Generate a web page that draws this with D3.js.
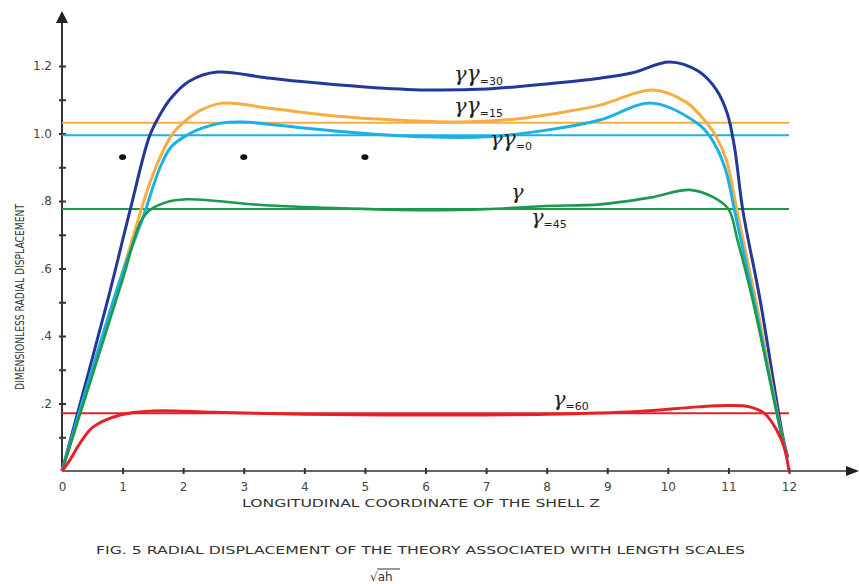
<!DOCTYPE html>
<html>
<head>
  <meta charset="utf-8">
  <title>Fig. 5 radial displacement</title>
  <script src="https://d3js.org/d3.v7.min.js"></script>
  <style>
    body { margin: 0; background: #fff; }
    .tick text { font-family: "DejaVu Sans", Verdana, sans-serif; font-size: 12px; fill: #444; }
    .tick line { stroke: #333; stroke-width: 2; }
    .domain { display: none; }
    .lbl { font-family: "DejaVu Sans", Verdana, sans-serif; fill: #333; }
  </style>
</head>
<body>
<script>
  var width = 859,
      height = 584;

  // axis ticks
  var xTicks = [0, 1, 2, 3, 4, 5, 6, 7, 8, 9, 10, 11, 12];
  var yTicks = [0.1, 0.2, 0.3, 0.4, 0.5, 0.6, 0.7, 0.8, 0.9, 1.0, 1.1, 1.2];
  var yTickLabels = {0.2: ".2", 0.4: ".4", 0.6: ".6", 0.8: ".8", 1.0: "1.0", 1.2: "1.2"};

  // curves (z, value)
  var zG30 = [0, 0.76, 1.12, 1.44, 1.6, 1.8, 2.1, 2.56, 3.3, 4, 5, 6, 7, 8, 8.88, 9.42, 10.03, 10.5, 10.8, 10.98, 11.1, 11.24, 11.52, 11.9, 11.98];
  var vG30 = [0, 0.51, 0.77, 0.99, 1.05, 1.105, 1.155, 1.182, 1.167, 1.153, 1.138, 1.129, 1.132, 1.147, 1.164, 1.18, 1.212, 1.185, 1.13, 1.06, 0.96, 0.77, 0.51, 0.1, 0.04];

  var zG15 = [0, 0.96, 1.31, 1.45, 1.62, 1.81, 2.0, 2.3, 2.66, 3.5, 4.5, 5.5, 6.5, 7.5, 8.3, 8.88, 9.75, 10.3, 10.64, 10.8, 10.97, 11.14, 11.45, 11.9, 11.98];
  var vG15 = [0, 0.567, 0.776, 0.853, 0.93, 0.995, 1.032, 1.07, 1.09, 1.073, 1.052, 1.04, 1.034, 1.043, 1.064, 1.084, 1.129, 1.093, 1.032, 0.99, 0.92, 0.773, 0.507, 0.09, 0.04];

  var zG0 = [0, 0.96, 1.34, 1.62, 1.8, 2.06, 2.3, 2.6, 3, 4, 5, 6, 7, 8, 8.88, 9.73, 10.48, 10.7, 10.94, 11.1, 11.42, 11.9, 11.98];
  var vG0 = [0, 0.567, 0.753, 0.9, 0.96, 0.995, 1.015, 1.03, 1.034, 1.016, 1.0, 0.99, 0.99, 1.01, 1.04, 1.09, 1.031, 0.99, 0.9, 0.773, 0.507, 0.09, 0.04];

  var zG45 = [0, 1.0, 1.29, 1.45, 1.7, 2.06, 3.3, 4.5, 6, 7, 8, 8.88, 9.7, 10.36, 10.74, 11.0, 11.15, 11.4, 11.9, 11.98];
  var vG45 = [0, 0.567, 0.735, 0.773, 0.795, 0.805, 0.788, 0.779, 0.773, 0.776, 0.785, 0.79, 0.81, 0.833, 0.812, 0.776, 0.684, 0.507, 0.09, 0.04];

  var zG60 = [0, 0.1, 0.3, 0.51, 0.96, 1.5, 2.5, 4, 6, 8, 9.5, 10.5, 11.0, 11.35, 11.6, 11.8, 11.92, 12];
  var vG60 = [0, 0.024, 0.083, 0.13, 0.166, 0.178, 0.174, 0.168, 0.166, 0.168, 0.176, 0.19, 0.194, 0.19, 0.17, 0.12, 0.07, 0];

  // straight reference levels
  var levelNames = ["g15", "g0", "g45", "g60"];
  var levelValues = [1.032, 0.995, 0.776, 0.171];

  // the three dots
  var dotZ = [1, 3, 5];
  var dotV = 0.93;

  var colors = {g30: "#22399a", g15: "#f6ae42", g0: "#1cb0e6", g45: "#1b9a4a", g60: "#e52128"};

  var svg = d3.select("body").append("svg")
              .attr("width", width)
              .attr("height", height);

  var x = d3.scaleLinear().domain([0, 12]).range([62, 789]);
  var y = d3.scaleLinear().domain([0, 1.2]).range([471, 66]);

  // axes
  var xAxis = svg.append("g")
     .attr("transform", "translate(0," + y(0) + ")")
     .call(d3.axisBottom(x).tickValues(xTicks).tickSize(0).tickPadding(11).tickFormat(d3.format("d")));
  xAxis.selectAll(".tick line").attr("y1", -3).attr("y2", 3)
       .filter(function(d) { return d === 0; }).remove();

  var yAxis = svg.append("g")
     .attr("transform", "translate(" + x(0) + ",0)")
     .call(d3.axisLeft(y).tickValues(yTicks).tickSize(0).tickPadding(10)
             .tickFormat(function(d) { return yTickLabels[d] || ""; }));
  yAxis.selectAll(".tick line").attr("x1", -3).attr("x2", 4);

  svg.append("line").attr("x1", x(0)).attr("x2", 850).attr("y1", y(0)).attr("y2", y(0))
     .attr("stroke", "#333").attr("stroke-width", 1.6);
  svg.append("path").attr("d", "M859," + y(0) + "L846," + (y(0) - 5) + "L846," + (y(0) + 5) + "Z")
     .attr("fill", "#222");
  svg.append("line").attr("x1", x(0)).attr("x2", x(0)).attr("y1", y(0)).attr("y2", 20)
     .attr("stroke", "#333").attr("stroke-width", 2);
  svg.append("path").attr("d", "M" + x(0) + ",11L" + (x(0) - 6) + ",23L" + (x(0) + 6) + ",23Z")
     .attr("fill", "#222");

  // horizontal levels
  svg.selectAll(".level")
     .data(levelValues)
     .enter()
     .append("line")
     .attr("x1", x(0)).attr("x2", x(12))
     .attr("y1", function(d) { return y(d); })
     .attr("y2", function(d) { return y(d); })
     .attr("stroke", function(d, i) { return colors[levelNames[i]]; })
     .attr("stroke-width", 2);

  var line = d3.line()
               .x(function(d) { return x(d[0]); })
               .y(function(d) { return y(d[1]); })
               .curve(d3.curveCatmullRom.alpha(0.5));

  var curves = [
    {name: "g30", z: zG30, v: vG30, w: 3},
    {name: "g15", z: zG15, v: vG15, w: 3},
    {name: "g0", z: zG0, v: vG0, w: 3},
    {name: "g45", z: zG45, v: vG45, w: 2.6},
    {name: "g60", z: zG60, v: vG60, w: 3}
  ];

  svg.selectAll(".curve")
     .data(curves)
     .enter()
     .append("path")
     .attr("d", function(c) { return line(d3.zip(c.z, c.v)); })
     .attr("fill", "none")
     .attr("stroke", function(c) { return colors[c.name]; })
     .attr("stroke-width", function(c) { return c.w; });

  svg.selectAll(".dot")
     .data(dotZ)
     .enter()
     .append("ellipse")
     .attr("cx", function(d) { return x(d); })
     .attr("cy", y(dotV))
     .attr("rx", 3.5).attr("ry", 2.8)
     .attr("fill", "#111");

  // curve labels
  function gammaLabel(px, py, twoG, sub) {
    var t = svg.append("text").attr("x", px).attr("y", py).attr("fill", "#222");
    t.append("tspan").attr("font-family", "DejaVu Serif, serif").attr("font-style", "italic")
     .attr("font-size", 21).text("γ");
    if (twoG) {
      t.append("tspan").attr("font-family", "DejaVu Serif, serif").attr("font-style", "italic")
       .attr("font-size", 22).text("γ");
    }
    if (sub) {
      t.append("tspan").attr("font-family", "DejaVu Sans, sans-serif").attr("font-size", 11)
       .attr("dy", 4).text(sub);
    }
  }
  gammaLabel(454, 81, true, "=30");
  gammaLabel(454, 113, true, "=15");
  gammaLabel(490, 146, true, "=0");
  gammaLabel(511, 199, false, null);
  gammaLabel(531, 224, false, "=45");
  gammaLabel(553, 406, false, "=60");

  // axis titles and caption
  svg.append("text").attr("class", "lbl")
     .attr("transform", "translate(24,297) rotate(-90)")
     .attr("text-anchor", "middle")
     .attr("font-family", "Liberation Sans Narrow, DejaVu Sans Condensed, sans-serif")
     .attr("font-size", 12)
     .attr("textLength", 186).attr("lengthAdjust", "spacingAndGlyphs")
     .text("DIMENSIONLESS RADIAL DISPLACEMENT");

  svg.append("text").attr("class", "lbl")
     .attr("x", 242).attr("y", 507)
     .attr("font-size", 11)
     .attr("textLength", 358).attr("lengthAdjust", "spacingAndGlyphs")
     .text("LONGITUDINAL COORDINATE OF THE SHELL Z");

  svg.append("text").attr("class", "lbl")
     .attr("x", 96).attr("y", 554)
     .attr("font-size", 11)
     .attr("textLength", 649).attr("lengthAdjust", "spacingAndGlyphs")
     .text("FIG. 5 RADIAL DISPLACEMENT OF THE THEORY ASSOCIATED WITH LENGTH SCALES");

  svg.append("text").attr("class", "lbl")
     .attr("x", 370).attr("y", 581)
     .attr("font-size", 12)
     .text("√ah");
  svg.append("line").attr("x1", 377).attr("x2", 400).attr("y1", 569).attr("y2", 569)
     .attr("stroke", "#333").attr("stroke-width", 1);
</script>
</body>
</html>
